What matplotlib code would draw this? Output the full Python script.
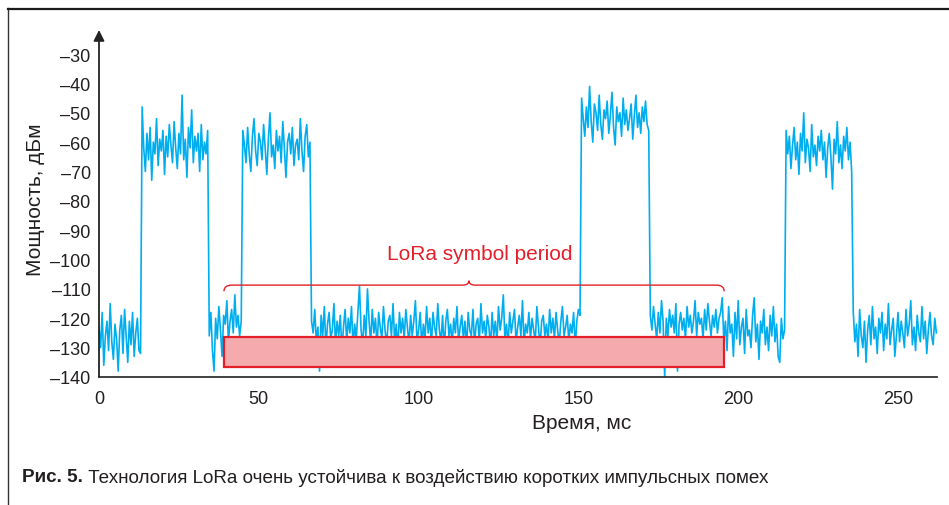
import numpy as np
import matplotlib
matplotlib.use('Agg')
import matplotlib.pyplot as plt
from matplotlib.path import Path
from matplotlib.patches import PathPatch, Rectangle

# отсчёты мощности (дБм), шаг 0.5 мс, по участкам
low0 = [-123,-130,-118,-136,-126,-121,-131,-115,-128,-134,
        -122,-127,-138,-124,-119,-132,-117,-126,-135,-121,
        -129,-118,-133,-125,-120,-131,-132]
high1 = [-48,-62,-70,-57,-66,-55,-73,-60,-64,-52,
         -68,-59,-63,-56,-71,-58,-65,-54,-61,-67,
         -53,-62,-69,-57,-64,-44,-66,-59,-72,-55,
         -62,-49,-67,-58,-63,-57,-70,-54,-66,-60,
         -64,-56]
low1 = [-126,-118,-131,-138,-120,-127,-116,-124,-133,-119,
        -122,-114,-128,-121,-117,-125,-112,-123,-119,-126,
        -121]
high2 = [-56,-61,-67,-55,-64,-70,-58,-52,-63,-68,
         -57,-60,-66,-54,-62,-71,-59,-50,-65,-61,
         -69,-56,-63,-58,-67,-53,-62,-72,-60,-57,
         -64,-55,-68,-61,-59,-66,-52,-63,-70,-58,
         -54,-65,-60]
low2 = [-121,-125,-117,-128,-123,-138,-119,-126,-116,-130,
        -122,-118,-127,-124,-115,-129,-121,-126,-119,-131,
        -123,-117,-128,-120,-125,-116,-130,-122,-127,-118,
        -109,-124,-129,-119,-126,-110,-121,-128,-117,-125,
        -120,-130,-118,-123,-127,-116,-124,-129,-121,-119,
        -126,-115,-128,-122,-131,-118,-125,-120,-127,-117,
        -123,-129,-119,-126,-121,-114,-128,-124,-118,-130,
        -122,-127,-116,-125,-120,-129,-118,-123,-126,-115,
        -124,-128,-119,-131,-121,-117,-126,-122,-129,-120,
        -125,-116,-128,-123,-119,-127,-121,-130,-118,-124,
        -126,-117,-129,-122,-120,-128,-115,-125,-121,-127,
        -119,-123,-130,-118,-126,-121,-128,-116,-124,-120,
        -112,-127,-122,-129,-118,-125,-121,-117,-128,-123,
        -119,-126,-114,-129,-122,-125,-118,-127,-120,-124,
        -128,-116,-123,-130,-121,-119,-126,-122,-128,-117,
        -125,-120,-127,-118,-124,-129,-121,-116,-126,-123,
        -119,-128,-122,-125,-118,-130,-121,-117,-119]
high3 = [-45,-52,-58,-48,-55,-41,-53,-60,-47,-50,
         -56,-44,-54,-59,-49,-52,-46,-57,-51,-43,
         -55,-61,-48,-53,-50,-58,-45,-54,-49,-56,
         -52,-47,-59,-51,-44,-55,-50,-57,-48,-53,
         -46,-54,-56]
low3 = [-119,-124,-116,-122,-127,-118,-125,-114,-121,-140,
        -120,-126,-117,-123,-119,-125,-115,-138,-122,-118,
        -124,-120,-127,-116,-123,-119,-125,-121,-114,-126,
        -118,-122,-120,-127,-117,-124,-115,-121,-126,-119,
        -123,-117,-125,-120,-118,-113,-128,-121,-131,-116,
        -125,-122,-133,-118,-127,-114,-129,-123,-120,-132,
        -117,-126,-124,-130,-119,-113,-128,-122,-134,-121,
        -125,-117,-129,-123,-131,-119,-126,-116,-128,-122,
        -133,-135,-120,-127,-124]
high4 = [-56,-64,-58,-69,-61,-55,-66,-60,-71,-57,
         -63,-50,-67,-59,-62,-70,-54,-65,-61,-68,
         -58,-63,-56,-66,-60,-72,-62,-57,-65,-76,
         -59,-64,-53,-67,-61,-69,-58,-63,-55,-66,
         -60,-70]
low4 = [-118,-128,-122,-133,-117,-126,-130,-121,-135,-124,
        -119,-129,-116,-127,-123,-132,-120,-125,-118,-131,
        -122,-127,-115,-129,-124,-120,-133,-126,-118,-128,
        -121,-125,-130,-117,-126,-122,-114,-129,-123,-131,
        -119,-125,-128,-116,-127,-121,-132,-124,-118,-126,
        -129,-120,-125]

dt = 0.5
period_start, period_end = 39.1, 195.6   # LoRa symbol period, мс
period_low, period_high = -136.6, -126.4

yticks = [-30,-40,-50,-60,-70,-80,-90,-100,-110,-120,-130,-140]
ytick_labels = ['–30','–40','–50','–60','–70','–80','–90','–100','–110','–120','–130','–140']
xticks = [0, 50, 100, 150, 200, 250]

power = np.array(low0+high1+low1+high2+low2+high3+low3+high4+low4, dtype=float)
t = np.arange(len(power))*dt

txt = '#231f20'
plt.rcParams['font.family'] = ['Liberation Sans', 'DejaVu Sans']

fig = plt.figure(figsize=(9.49, 5.06), dpi=100)
ax = fig.add_axes([99/949, (506-378)/506, (937-99)/949, (378-31)/506])
ax.set_xlim(0, 262.2)
ax.set_ylim(-140, -21.8)

ax.plot(t, power, color='#00aeef', lw=1.2, zorder=2)

ax.add_patch(Rectangle((period_start, period_low), period_end-period_start, period_high-period_low,
                       facecolor='#f5aaad', edgecolor='#e3202a', lw=1.6, zorder=3))

# фигурная скобка над периодом символа
yb = -108.7
xc = (period_start+period_end)/2 - 1.6
verts = [(period_start, yb-2.1), (period_start, yb), (period_start+2.5, yb),
         (xc-2, yb), (xc, yb), (xc, yb+1.5), (xc, yb), (xc+2, yb),
         (period_end-2.5, yb), (period_end, yb), (period_end, yb-2.1)]
codes = [Path.MOVETO, Path.CURVE3, Path.CURVE3,
         Path.LINETO, Path.CURVE3, Path.CURVE3, Path.CURVE3, Path.CURVE3,
         Path.LINETO, Path.CURVE3, Path.CURVE3]
ax.add_patch(PathPatch(Path(verts, codes), facecolor='none', edgecolor='#e3202a', lw=1.0, zorder=4))
ax.text(119.2, -98, 'LoRa symbol period', color='#e3202a', fontsize=15, ha='center', va='center')

for s in ['top', 'right', 'left']:
    ax.spines[s].set_visible(False)
ax.spines['bottom'].set_color('#333333')
ax.spines['bottom'].set_linewidth(1.3)
ax.annotate('', xy=(0, 1), xytext=(0, 0), xycoords='axes fraction',
            arrowprops=dict(arrowstyle='-|>', color='#222222', lw=1.3, mutation_scale=16,
                            shrinkA=0, shrinkB=0))

ax.set_yticks(yticks)
ax.set_yticklabels(ytick_labels)
ax.set_xticks(xticks)
ax.tick_params(length=0, labelsize=13, labelcolor=txt)
ax.tick_params(axis='y', pad=6)
ax.tick_params(axis='x', pad=9)

ax.set_ylabel('Мощность, дБм', fontsize=15, color=txt, va='center')
ax.yaxis.set_label_coords(-0.076, 0.514)
ax.set_xlabel('Время, мс', fontsize=15, color=txt, va='center')
ax.xaxis.set_label_coords(0.576, -0.13)

# рамка
fig.add_artist(plt.Line2D([8/949, 8/949], [0, 1-9/506], color='#333333', lw=1.0))
fig.add_artist(plt.Line2D([8/949, 1], [1-9.5/506, 1-9.5/506], color='#1a1a1a', lw=1.6))

cap_size = 13.6
t1 = fig.text(22/949, 1-478/506, 'Рис. 5.', fontsize=cap_size, fontweight='bold',
              color=txt, va='center')
ax.annotate(' Технология LoRa очень устойчива к воздействию коротких импульсных помех',
            xy=(1, 0.5), xycoords=t1, va='center', ha='left',
            fontsize=cap_size, color=txt, annotation_clip=False)

fig.savefig('out.png', dpi=100)
